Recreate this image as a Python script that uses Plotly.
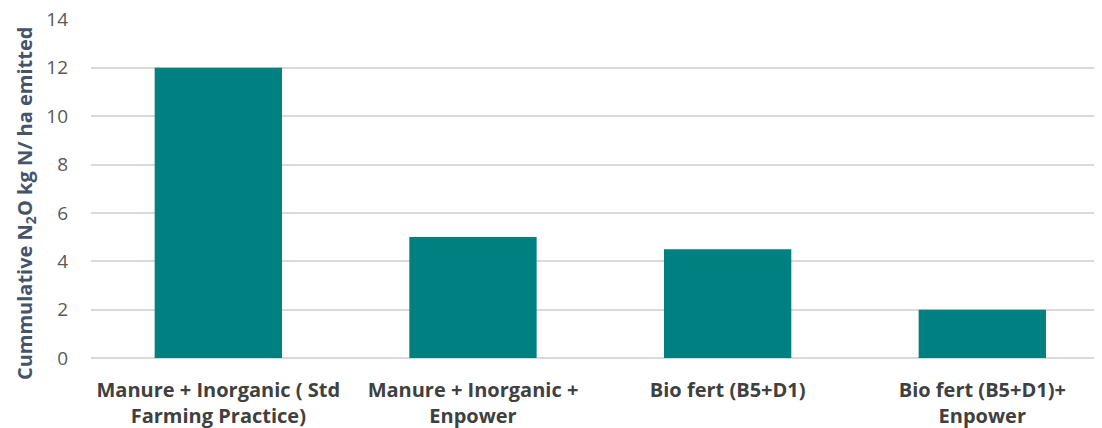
import plotly.graph_objects as go

categories = [
    "Manure + Inorganic ( Std<br>Farming Practice)",
    "Manure + Inorganic +<br>Enpower",
    "Bio fert (B5+D1)",
    "Bio fert (B5+D1)+<br>Enpower",
]
values = [12, 5, 4.5, 2]
y_ticks = [0, 2, 4, 6, 8, 10, 12, 14]
y_title = "Cummulative N<sub>2</sub>O kg N/ ha emitted"

fig = go.Figure()
fig.add_trace(go.Bar(
    x=list(range(len(categories))),
    y=values,
    marker=dict(color="#008080", line=dict(width=0)),
    width=0.5,
))

# page body has an 8px default margin, so margins are compensated
fig.update_layout(
    width=1102, height=428,
    margin=dict(l=83, r=8, t=11, b=78, autoexpand=False),
    plot_bgcolor="white", paper_bgcolor="white",
    showlegend=False,
    font=dict(family="Open Sans, sans-serif"),
)
fig.update_xaxes(
    automargin=False,
    range=[-0.5, 3.47],
    tickvals=list(range(len(categories))),
    ticktext=categories,
    tickfont=dict(size=20, color="#404040", family="Open Sans", weight="bold"),
    showgrid=False, zeroline=False, showline=False,
    ticks="", ticklabelstandoff=18, ticklabeloverflow="allow",
)
fig.update_yaxes(
    automargin=False,
    range=[0, 14.02],
    tickvals=y_ticks,
    tickfont=dict(size=19, color="#595959", family="Open Sans"),
    showgrid=True, gridcolor="#d9d9d9", gridwidth=1.5,
    zeroline=True, zerolinecolor="#d9d9d9", zerolinewidth=1.5,
    ticks="", ticklabelstandoff=22, ticklabeloverflow="allow",
)
fig.add_annotation(
    text=y_title, textangle=-90,
    xref="paper", yref="paper", x=0, y=0.457,
    xanchor="center", yanchor="middle", xshift=-66,
    showarrow=False,
    font=dict(size=20, color="#44546A", family="Open Sans", weight="bold"),
)

fig.write_html("out.html")
